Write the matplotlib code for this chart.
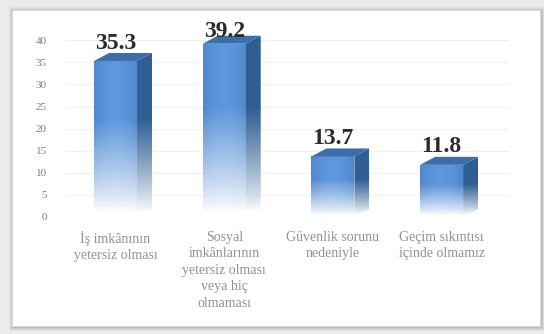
import matplotlib
matplotlib.use("Agg")
import matplotlib.pyplot as plt
from matplotlib.patches import Polygon, Rectangle
import numpy as np

# data
categories = ["İş imkânının\nyetersiz olması",
              "Sosyal\nimkânlarının\nyetersiz olması\nveya hiç\nolmaması",
              "Güvenlik sorunu\nnedeniyle",
              "Geçim sıkıntısı\niçinde olmamız"]
values = [35.3, 39.2, 13.7, 11.8]
yticks = [0, 5, 10, 15, 20, 25, 30, 35, 40]

W, H = 544, 334
fig = plt.figure(figsize=(W / 100, H / 100), dpi=100)
fig.patch.set_facecolor("#ebebeb")

# panel with a soft shadow
for k, a in [(4, 0.08), (3, 0.12), (2, 0.16), (1, 0.22)]:
    fig.patches.append(Rectangle(((12 - k + 1) / W, (H - 326 - k - 1) / H),
                                 (528 + 2 * k) / W, (316 + 2 * k) / H,
                                 transform=fig.transFigure, facecolor="#8a8a8a",
                                 alpha=a, edgecolor="none", zorder=0))
fig.patches.append(Rectangle((12 / W, (H - 326) / H), 528 / W, 316 / H,
                             transform=fig.transFigure, facecolor="white",
                             edgecolor="#d8d8d8", linewidth=0.5, zorder=1))

px_per_unit = 4.42
y0_px = 217
ymax = 42
ax = fig.add_axes([65 / W, (H - y0_px) / H, 444 / W, ymax * px_per_unit / H])
ax.set_facecolor("none")
ax.set_zorder(2)

x_unit = 108.7
xmin, xmax = -0.465, 3.62
ax.set_xlim(xmin, xmax)
ax.set_ylim(0, ymax)

for t in yticks:
    ax.axhline(t, color="#f1f1f1", linewidth=0.9, zorder=0)

bw = 43 / x_unit
dx = 15 / x_unit
dy = 8 / px_per_unit

front_col = np.array([0x4f, 0x88, 0xcc]) / 255
side_col = np.array([0x2f, 0x5e, 0x94]) / 255
top_col = np.array([0x3c, 0x6e, 0xab]) / 255
white = np.array([1.0, 1.0, 1.0])


def fade(frac):
    t = np.clip((frac - 0.03) / 0.6, 0, 1)
    return t ** 0.85


for i, v in enumerate(values):
    x0, x1 = i - bw / 2, i + bw / 2
    # front face
    ny, nx = 200, 40
    yy = np.linspace(0, 1, ny)[:, None]
    xx = np.linspace(0, 1, nx)[None, :]
    t = fade(yy) * np.ones_like(xx)
    light = 0.06 * np.sin(np.pi * xx) * np.ones_like(yy)
    img = white * (1 - t[..., None]) + front_col * t[..., None]
    img = np.clip(img + light[..., None] * t[..., None], 0, 1)
    front = Rectangle((x0, 0), bw, v, facecolor="none", edgecolor="none")
    ax.add_patch(front)
    im = ax.imshow(img, extent=[x0, x1, 0, v], origin="lower", aspect="auto",
                   interpolation="bilinear", zorder=3)
    im.set_clip_path(front)

    # side face
    side = Polygon([(x1, 0), (x1 + dx, dy), (x1 + dx, v + dy), (x1, v)],
                   closed=True, facecolor="none", edgecolor="none")
    ax.add_patch(side)
    yy2 = np.linspace(0, v + dy, ny)[:, None] / v
    t2 = fade(yy2) * np.ones((1, 10))
    img2 = white * (1 - t2[..., None]) + side_col * t2[..., None]
    im2 = ax.imshow(img2, extent=[x1, x1 + dx, 0, v + dy], origin="lower",
                    aspect="auto", interpolation="bilinear", zorder=3)
    im2.set_clip_path(side)

    # top face
    ax.add_patch(Polygon([(x0, v), (x0 + dx, v + dy), (x1 + dx, v + dy), (x1, v)],
                         closed=True, facecolor=top_col, edgecolor="none",
                         zorder=4))

    ax.text(i, min(v + dy + 1.0, 40.7), f"{v:.1f}", ha="center", va="baseline",
            fontsize=17, fontweight="bold", family="Liberation Serif",
            color="#2b2b2b", zorder=5)

ax.set_xlim(xmin, xmax)
ax.set_ylim(0, ymax)

ax.set_yticks(yticks)
ax.set_yticklabels([str(t) for t in yticks], family="Liberation Serif",
                   fontsize=8, color="#7f7f7f")
ax.set_xticks(range(len(categories)))
ax.set_xticklabels(categories, family="Liberation Serif", fontsize=10,
                   color="#919191", linespacing=1.35)
ax.tick_params(axis="y", length=0, pad=13)
ax.tick_params(axis="x", length=0, pad=10)
for s in ax.spines.values():
    s.set_visible(False)

fig.savefig("out.png", dpi=100)
